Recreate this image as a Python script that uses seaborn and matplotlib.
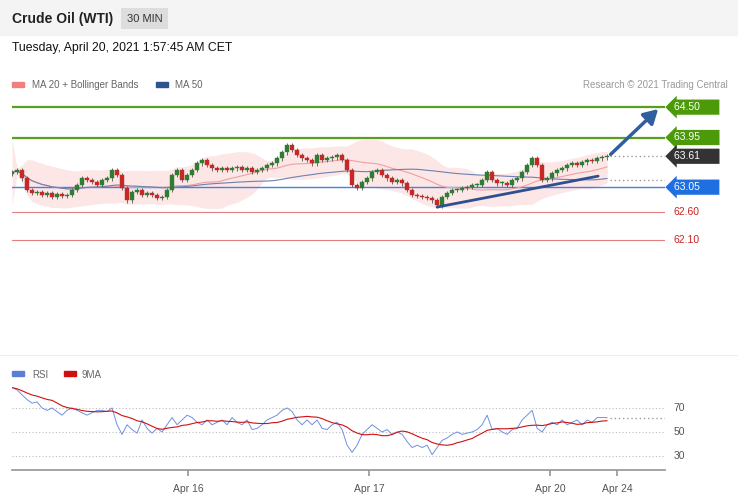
import numpy as np
import pandas as pd
import seaborn as sns
import matplotlib
matplotlib.use("Agg")
import matplotlib.pyplot as plt
from matplotlib.patches import Rectangle

# 30-minute closes (one bar every ~5px)
closes = [
    63.32, 63.36, 63.21, 63.00, 62.94, 62.96, 62.91, 62.94, 62.87, 62.93,
    62.89, 62.91, 63.00, 63.09, 63.21, 63.18, 63.14, 63.09, 63.18, 63.21,
    63.36, 63.27, 63.03, 62.81, 62.96, 63.00, 62.91, 62.94, 62.91, 62.85,
    62.87, 63.00, 63.27, 63.36, 63.18, 63.27, 63.36, 63.48, 63.54, 63.45,
    63.39, 63.36, 63.39, 63.36, 63.39, 63.41, 63.36, 63.39, 63.32, 63.36,
    63.39, 63.45, 63.48, 63.57, 63.68, 63.81, 63.72, 63.63, 63.57, 63.54,
    63.48, 63.63, 63.54, 63.57, 63.59, 63.63, 63.54, 63.36, 63.09, 63.03,
    63.14, 63.21, 63.32, 63.36, 63.27, 63.21, 63.14, 63.18, 63.12, 63.00,
    62.91, 62.89, 62.87, 62.85, 62.81, 62.72, 62.87, 62.94, 63.00, 63.00,
    63.03, 63.05, 63.09, 63.09, 63.18, 63.32, 63.18, 63.12, 63.12, 63.09,
    63.18, 63.21, 63.32, 63.45, 63.57, 63.45, 63.18, 63.21, 63.30, 63.36,
    63.39, 63.45, 63.48, 63.46, 63.50, 63.54, 63.52, 63.57, 63.59, 63.61,
]
rsi = [
    87, 85, 81, 77, 74, 75, 70, 68, 70, 67, 64, 68, 70, 68, 66, 64, 66, 68, 68, 67,
    70, 56, 48, 56, 52, 49, 60, 53, 49, 53, 50, 56, 62, 56, 60, 64, 62, 58, 56, 60,
    56, 58, 60, 56, 62, 58, 56, 60, 52, 53, 56, 60, 62, 64, 68, 70, 67, 60, 56, 60,
    56, 60, 53, 52, 56, 58, 52, 39, 33, 39, 48, 52, 56, 53, 50, 52, 48, 50, 48, 42,
    37, 39, 37, 39, 31, 37, 43, 45, 48, 50, 48, 49, 50, 52, 56, 64, 52, 53, 50, 48,
    52, 53, 60, 64, 68, 53, 50, 56, 58, 56, 60, 56, 58, 60, 56, 60, 58, 62, 62, 62,
]
levels = [64.50, 63.95, 63.61, 63.05, 62.60, 62.10]
level_colors = ["#4c9a0a", "#4c9a0a", "#333333", "#1f6fe0", None, None]
day_ticks = [35.2, 71.4, 107.6, 121.0]
day_labels = ["Apr 16", "Apr 17", "Apr 20", "Apr 24"]

sns.set_theme(style="white")
plt.rcParams["font.family"] = ["Liberation Sans", "DejaVu Sans"]

df = pd.DataFrame({"i": np.arange(len(closes)), "close": closes, "rsi": rsi})
df["open"] = df["close"].shift(1).fillna(df["close"].iloc[0] - 0.03)
df["ma20"] = df["close"].rolling(20, min_periods=1).mean()
sd = df["close"].rolling(20, min_periods=2).std().fillna(0.3)
df["up"] = df["ma20"] + 2 * sd
df["dn"] = df["ma20"] - 2 * sd
df["ma50"] = df["close"].rolling(50, min_periods=1).mean()
df["rsi9"] = df["rsi"].rolling(9, min_periods=1).mean()

fig = plt.figure(figsize=(7.38, 5), dpi=100)
fig.patches.append(Rectangle((0, 0.93), 1, 0.07, transform=fig.transFigure,
                             color="#f4f4f4", zorder=0))
fig.text(0.016, 0.963, "Crude Oil (WTI)", fontsize=10, weight="bold",
         color="#222222", va="center")
fig.text(0.172, 0.963, "30 MIN", fontsize=8, color="#333333", va="center",
         bbox=dict(boxstyle="square,pad=0.5", fc="#dddddd", ec="none"))
fig.text(0.016, 0.904, "Tuesday, April 20, 2021 1:57:45 AM CET", fontsize=8.8,
         color="#111111", va="center")

# legend row
fig.patches.append(Rectangle((0.016, 0.826), 0.016, 0.01, transform=fig.transFigure, color="#f08080"))
fig.text(0.044, 0.829, "MA 20 + Bollinger Bands", fontsize=7, color="#666666", va="center")
fig.patches.append(Rectangle((0.211, 0.826), 0.016, 0.01, transform=fig.transFigure, color="#2f5590"))
fig.text(0.237, 0.829, "MA 50", fontsize=7, color="#666666", va="center")
fig.text(0.986, 0.829, "Research © 2021 Trading Central", fontsize=7, color="#999999",
         va="center", ha="right")

ax = fig.add_axes([0.0163, 0.30, 0.885, 0.51])
xmax = 130.6
ax.set_xlim(0, xmax)
ax.set_ylim(60.10, 64.72)
ax.fill_between(df["i"], df["dn"], df["up"], color="#fde6e6", lw=0, zorder=1)
sns.lineplot(data=df, x="i", y="ma20", ax=ax, color="#f0a0a0", lw=0.8, zorder=2)
sns.lineplot(data=df, x="i", y="ma50", ax=ax, color="#6b82b0", lw=0.8, zorder=2)

for lv, c in zip(levels, level_colors):
    if lv == 63.61:
        ax.plot([119.5, xmax], [lv, lv], ls=(0, (1, 2)), color="#999999", lw=1)
        continue
    if c is None:
        ax.axhline(lv, color="#e08080", lw=0.8, zorder=1)
    elif c.startswith("#4c"):
        ax.axhline(lv, color="#5aa01e", lw=1.6, zorder=1)
    else:
        ax.axhline(lv, color="#4a7fe0", lw=1, zorder=1)
ax.plot([119.5, xmax], [63.18, 63.18], ls=(0, (1, 2)), color="#999999", lw=1)

for lv, c in zip(levels, level_colors):
    if c is None:
        ax.annotate(f"{lv:.2f}", (1.013, lv), xycoords=("axes fraction", "data"),
                    fontsize=7.5, color="#cc2222", va="center", annotation_clip=False)
    else:
        ax.annotate(f"{lv:.2f}      ", (1.013, lv), xycoords=("axes fraction", "data"),
                    fontsize=7.5, color="white", va="center", annotation_clip=False,
                    bbox=dict(boxstyle="larrow,pad=0.25", fc=c, ec="none"))

green, red = "#2e7d32", "#c62828"
for _, r in df.iterrows():
    col = green if r["close"] >= r["open"] else red
    lo, hi = min(r["open"], r["close"]), max(r["open"], r["close"])
    ax.vlines(r["i"], lo - 0.04, hi + 0.04, color="#555555", lw=0.6, zorder=3)
    ax.bar(r["i"], max(hi - lo, 0.02), bottom=lo, width=0.7, color=col,
           edgecolor=col, lw=0.3, zorder=4)

ax.plot([85, 117.2], [62.69, 63.25], color="#2f4f8f", lw=2, zorder=5)
ax.annotate("", xy=(129.6, 64.50), xytext=(119.3, 63.61),
            arrowprops=dict(arrowstyle="-|>,head_width=0.4,head_length=0.7",
                            color="#2f5fa0", lw=2.5), zorder=6)
ax.set_xticks([]); ax.set_yticks([])
ax.set_xlabel(""); ax.set_ylabel("")
for s in ax.spines.values():
    s.set_visible(False)

fig.lines.append(plt.Line2D([0.0, 1.0], [0.29, 0.29], transform=fig.transFigure,
                            color="#eeeeee", lw=0.8))
fig.patches.append(Rectangle((0.016, 0.248), 0.016, 0.01, transform=fig.transFigure, color="#5b7fd6"))
fig.text(0.044, 0.251, "RSI", fontsize=7, color="#666666", va="center")
fig.patches.append(Rectangle((0.087, 0.248), 0.016, 0.01, transform=fig.transFigure, color="#d01010"))
fig.text(0.111, 0.251, "9MA", fontsize=7, color="#666666", va="center")

ax2 = fig.add_axes([0.0163, 0.06, 0.885, 0.18])
ax2.set_xlim(0, xmax)
ax2.set_ylim(18.3, 93.3)
for g in (70, 50, 30):
    ax2.axhline(g, color="#bbbbbb", lw=0.8, ls=(0, (1, 2)))
    ax2.annotate(str(g), (1.013, g), xycoords=("axes fraction", "data"), fontsize=7.5,
                 color="#555555", va="center", annotation_clip=False)
ax2.plot([119.5, xmax], [rsi[-1], rsi[-1]], ls=(0, (1, 2)), color="#999999", lw=1)
sns.lineplot(data=df, x="i", y="rsi", ax=ax2, color="#6f8fe0", lw=0.7)
sns.lineplot(data=df, x="i", y="rsi9", ax=ax2, color="#d01010", lw=0.8)
ax2.set_xlabel(""); ax2.set_ylabel("")
ax2.set_yticks([])
ax2.set_xticks(day_ticks)
ax2.set_xticklabels(day_labels, fontsize=7.5, color="#555555")
ax2.tick_params(axis="x", length=4, color="#999999", direction="out", bottom=True, pad=6)
for k, s in ax2.spines.items():
    s.set_visible(k == "bottom")
ax2.spines["bottom"].set_color("#999999")

fig.savefig("out.png", dpi=100, facecolor="white")
